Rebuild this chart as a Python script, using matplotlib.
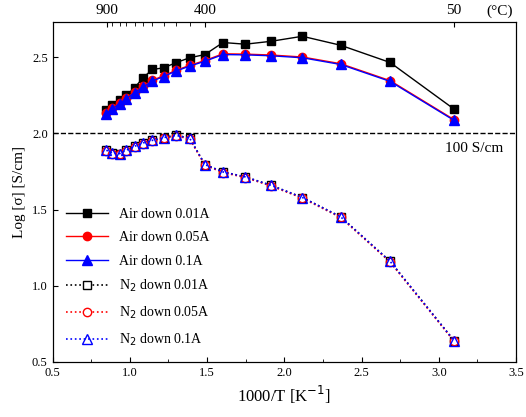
import matplotlib
matplotlib.use("Agg")
import matplotlib.pyplot as plt

x = [0.848,0.887,0.934,0.977,1.031,1.085,1.146,1.219,1.297,1.387,1.486,1.603,1.748,1.914,2.117,2.365,2.685,3.099]
air_001 = [2.155,2.183,2.216,2.249,2.299,2.365,2.419,2.430,2.463,2.496,2.517,2.596,2.585,2.604,2.637,2.578,2.465,2.159]
air_01 = [2.129,2.162,2.195,2.227,2.267,2.303,2.343,2.373,2.408,2.441,2.473,2.517,2.515,2.509,2.496,2.452,2.341,2.085]
air_005 = [v + 0.005 for v in air_01]
n2_001 = [1.889,1.871,1.867,1.889,1.915,1.937,1.954,1.972,1.987,1.969,1.795,1.747,1.714,1.659,1.579,1.452,1.160,0.640]
n2_005 = [v - 0.004 for v in n2_001]
n2_01 = n2_001
top_labels = {"900": 900, "400": 400, "50": 50}

plt.rcParams['font.family'] = ['Liberation Serif', 'DejaVu Serif']
fig = plt.figure(figsize=(5.26, 4.17), dpi=100)
ax = fig.add_axes([0.1, 0.132, 0.881, 0.815])

ms = 6
ax.plot(x, air_001, '-', color='black', marker='s', ms=ms, lw=1, label='Air down 0.01A')
ax.plot(x, air_005, '-', color='red', marker='o', ms=ms, lw=1, label='Air down 0.05A')
ax.plot(x, air_01, '-', color='blue', marker='^', ms=ms+1, lw=1, label='Air down 0.1A')
ax.plot(x, n2_001, ':', color='black', marker='s', mfc='white', ms=ms, lw=1.2, label='N$_2$ down 0.01A')
ax.plot(x, n2_005, ':', color='red', marker='o', mfc='white', ms=ms, lw=1.2, label='N$_2$ down 0.05A')
ax.plot(x, n2_01, ':', color='blue', marker='^', mfc='none', ms=ms+1, lw=1.2, label='N$_2$ down 0.1A')

ax.axhline(2.0, color='black', ls='--', lw=1)
ax.text(3.42, 1.94, '100 S/cm', ha='right', va='top', fontsize=11)

ax.set_xlim(0.5, 3.5)
ax.set_ylim(0.5, 2.73)
ax.set_xticks([0.5,1.0,1.5,2.0,2.5,3.0,3.5])
ax.set_xticks([0.75,1.25,1.75,2.25,2.75,3.25], minor=True)
ax.set_yticks([0.5,1.0,1.5,2.0,2.5])
ax.set_xlabel('1000/T [K$^{-1}$]', fontsize=12)
ax.set_ylabel('Log [σ] [S/cm]', fontsize=11)
ax.tick_params(labelsize=9, direction='in')
ax.tick_params(which='minor', direction='in')

ax2 = ax.twiny()
ax2.set_xlim(ax.get_xlim())
ax2.set_xticks([1000/(t+273) for t in top_labels.values()])
ax2.set_xticklabels(list(top_labels.keys()))
ax2.set_xticks(x[1:10], minor=True)
ax2.tick_params(labelsize=11, direction='in')
ax2.tick_params(which='minor', direction='in', length=3)
fig.text(0.975, 0.958, '(°C)', ha='right', va='bottom', fontsize=11)

ax.legend(loc='lower left', frameon=False, fontsize=10, handlelength=3, borderaxespad=0.6, labelspacing=0.75)
fig.savefig('out.png', dpi=100)
